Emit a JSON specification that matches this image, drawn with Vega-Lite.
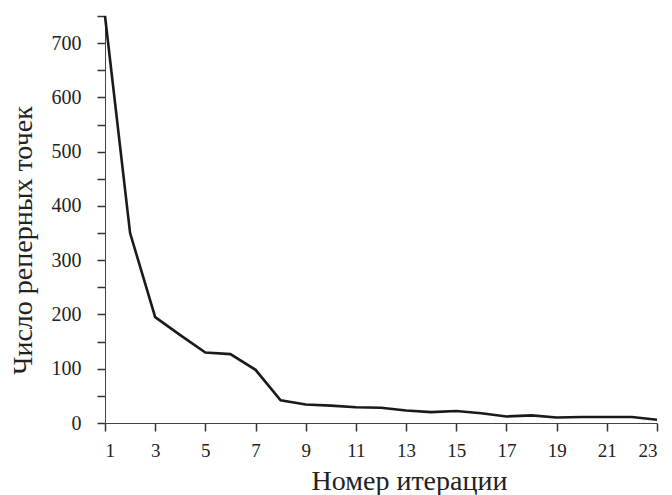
{
  "$schema": "https://vega.github.io/schema/vega-lite/v6.json",
  "autosize": "none",
  "padding": {"left": 105, "top": 16, "right": 15, "bottom": 72},
  "width": 552,
  "height": 407,
  "background": "white",
  "config": {
    "view": {"stroke": null},
    "font": "Liberation Serif",
    "axis": {"labelFont": "Liberation Serif", "titleFont": "Liberation Serif"}
  },
  "data": {"values": [
    {"iter": 1, "n": 750},
    {"iter": 2, "n": 350},
    {"iter": 3, "n": 195},
    {"iter": 4, "n": 162},
    {"iter": 5, "n": 130},
    {"iter": 6, "n": 127},
    {"iter": 7, "n": 98},
    {"iter": 8, "n": 42},
    {"iter": 9, "n": 34},
    {"iter": 10, "n": 32},
    {"iter": 11, "n": 29},
    {"iter": 12, "n": 28},
    {"iter": 13, "n": 23},
    {"iter": 14, "n": 20},
    {"iter": 15, "n": 22},
    {"iter": 16, "n": 18},
    {"iter": 17, "n": 12},
    {"iter": 18, "n": 14},
    {"iter": 19, "n": 10},
    {"iter": 20, "n": 11},
    {"iter": 21, "n": 11},
    {"iter": 22, "n": 11},
    {"iter": 23, "n": 6}
  ]},
  "mark": {"type": "line", "color": "#1a1a1a", "strokeWidth": 2.6, "clip": false},
  "encoding": {
    "x": {
      "field": "iter", "type": "quantitative",
      "scale": {"domain": [1, 23], "nice": false, "zero": false},
      "axis": {
        "values": [1, 3, 5, 7, 9, 11, 13, 15, 17, 19, 21, 23],
        "grid": false, "domainColor": "#444", "tickColor": "#333", "tickSize": 8, "tickWidth": 1.5,
        "labelFontSize": 19, "labelColor": "#222", "labelPadding": 10,
        "title": "Номер итерации", "titleFontSize": 28,
        "titleFontWeight": "normal", "titleColor": "#222",
        "titleX": 304, "titleY": 66, "titleBaseline": "alphabetic", "titleAlign": "center"
      }
    },
    "y": {
      "field": "n", "type": "quantitative",
      "scale": {"domain": [0, 750], "nice": false},
      "axis": {
        "values": [0, 50, 100, 150, 200, 250, 300, 350, 400, 450, 500, 550, 600, 650, 700, 750],
        "labelExpr": "datum.value % 100 == 0 ? datum.label : ''",
        "grid": false, "domainColor": "#444", "tickColor": "#333", "tickSize": 8, "tickWidth": 1.5,
        "labelFontSize": 20, "labelColor": "#222", "labelPadding": 16,
        "title": "Число реперных точек", "titleFontSize": 28,
        "titleFontWeight": "normal", "titleColor": "#222",
        "titleX": -74, "titleY": 224, "titleBaseline": "alphabetic", "titleAlign": "center", "titleAngle": -90
      }
    }
  }
}
